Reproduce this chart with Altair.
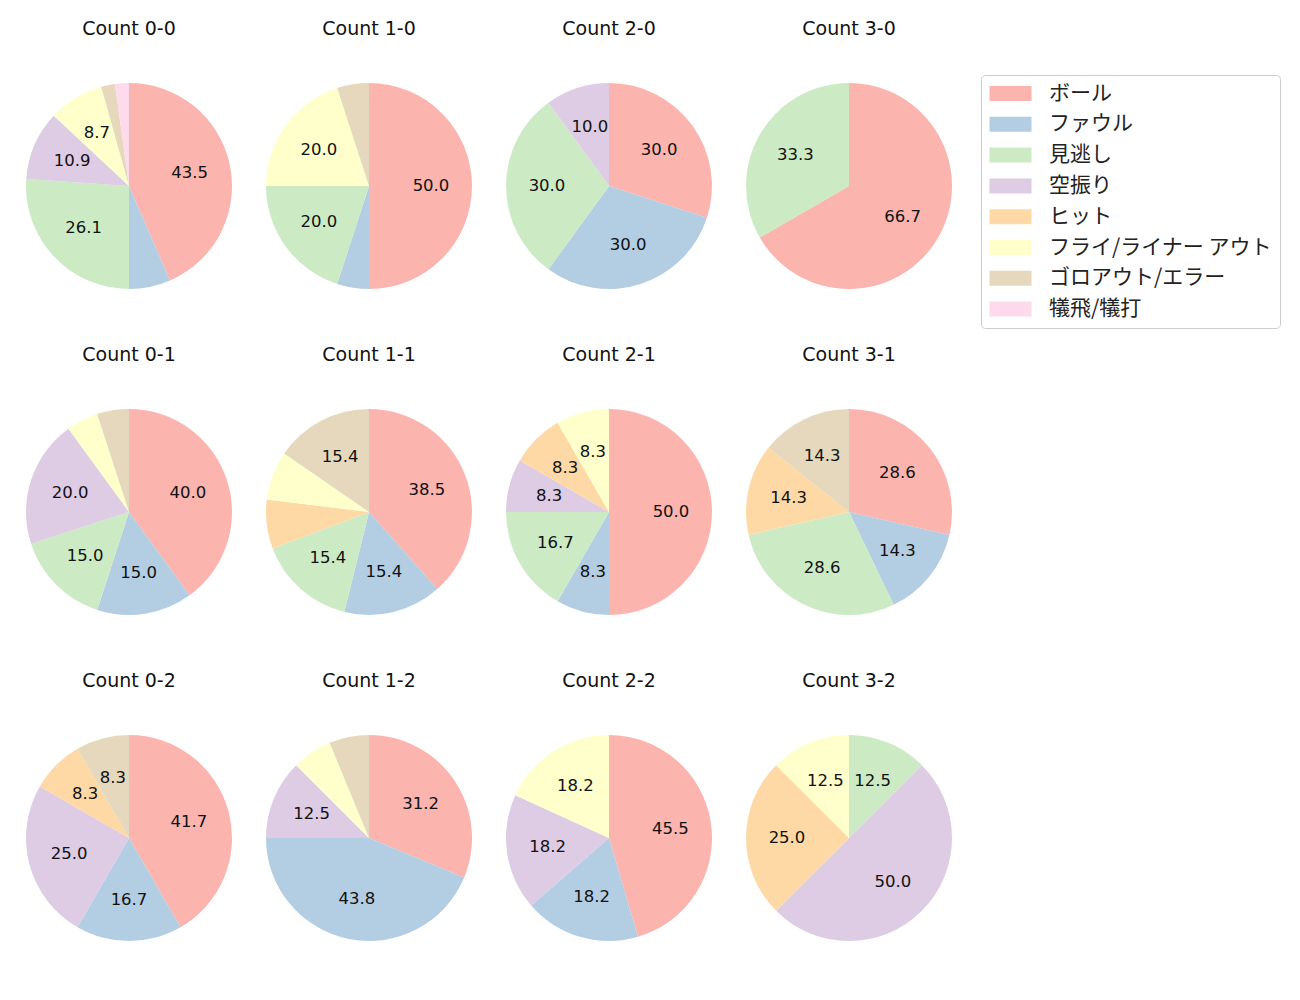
import altair as alt
import pandas as pd

categories = ["ボール", "ファウル", "見逃し", "空振り", "ヒット",
              "フライ/ライナー アウト", "ゴロアウト/エラー", "犠飛/犠打"]
colors = ["#fbb4ae", "#b3cde3", "#ccebc5", "#decbe4", "#fed9a6",
          "#ffffcc", "#e5d8bd", "#fddaec"]

count_labels = ["Count 0-0", "Count 1-0", "Count 2-0", "Count 3-0",
                "Count 0-1", "Count 1-1", "Count 2-1", "Count 3-1",
                "Count 0-2", "Count 1-2", "Count 2-2", "Count 3-2"]

# pitch counts per category (same order as categories)
v_0_0 = [20, 3, 12, 5, 0, 4, 1, 1]
v_1_0 = [10, 1, 4, 0, 0, 4, 1, 0]
v_2_0 = [3, 3, 3, 1, 0, 0, 0, 0]
v_3_0 = [2, 0, 1, 0, 0, 0, 0, 0]
v_0_1 = [8, 3, 3, 4, 0, 1, 1, 0]
v_1_1 = [5, 2, 2, 0, 1, 1, 2, 0]
v_2_1 = [6, 1, 2, 1, 1, 1, 0, 0]
v_3_1 = [2, 1, 2, 0, 1, 0, 1, 0]
v_0_2 = [5, 2, 0, 3, 1, 0, 1, 0]
v_1_2 = [5, 7, 0, 2, 0, 1, 1, 0]
v_2_2 = [5, 2, 0, 2, 0, 2, 0, 0]
v_3_2 = [0, 0, 1, 4, 2, 1, 0, 0]

all_values = [v_0_0, v_1_0, v_2_0, v_3_0, v_0_1, v_1_1, v_2_1, v_3_1,
              v_0_2, v_1_2, v_2_2, v_3_2]

rows = []
for cl, vals in zip(count_labels, all_values):
    total = sum(vals)
    for i, (cat, v) in enumerate(zip(categories, vals)):
        if v <= 0:
            continue
        pct = v / total * 100
        rows.append({
            "count": cl,
            "category": cat,
            "value": v,
            "order": i,
            "label": ("%1.1f" % pct) if pct >= 8 else "",
        })
df = pd.DataFrame(rows)

JP_FONT = "Noto Sans CJK JP"
LAT_FONT = "DejaVu Sans"

base = alt.Chart().encode(
    theta=alt.Theta("value:Q", stack=True),
    order=alt.Order("order:Q"),
)

arc = base.mark_arc(outerRadius=103).encode(
    color=alt.Color(
        "category:N",
        scale=alt.Scale(domain=categories, range=colors),
        legend=alt.Legend(
            title=None,
            orient="none",
            legendX=955,
            legendY=-8,
            symbolType="M-1,-0.75L3.2,-0.75L3.2,0.75L-1,0.75Z",
            symbolSize=400,
            symbolStrokeWidth=0,
            symbolOpacity=1,
            labelFontSize=21,
            labelFont=JP_FONT,
            labelColor="#222222",
            labelOffset=39,
            labelLimit=400,
            rowPadding=8.8,
            padding=8,
            strokeColor="#cccccc",
            fillColor="white",
            cornerRadius=4,
        ),
    )
)
text = base.mark_text(radius=62, fontSize=16.5, font=LAT_FONT,
                      color="#111111").encode(
    text="label:N",
    detail="category:N",
)

chart = alt.layer(arc, text, data=df).properties(width=206, height=206).facet(
    facet=alt.Facet(
        "count:N",
        sort=count_labels,
        header=alt.Header(title=None, labelFontSize=19, labelFont=LAT_FONT,
                          labelColor="#111111", labelPadding=44),
    ),
    columns=4,
    spacing={"row": 57, "column": 34},
).properties(
    padding={"left": 18, "top": 12, "right": 5, "bottom": 5}
).configure_view(stroke=None)

chart.save("out.html", embed_options={"renderer": "svg", "actions": False})
